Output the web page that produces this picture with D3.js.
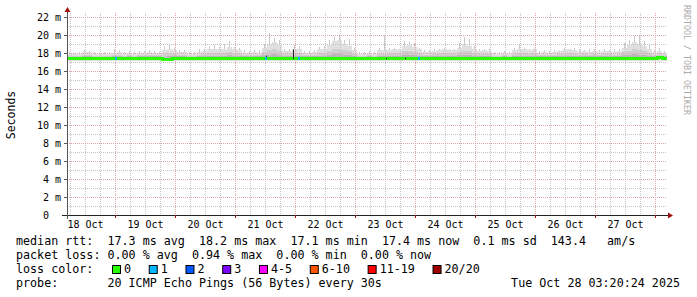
<!DOCTYPE html>
<html>
<head>
<meta charset="utf-8">
<script src="https://cdn.jsdelivr.net/npm/d3@7"></script>
<style>
  body { margin: 0; background: #fff; }
  text { font-family: "DejaVu Sans Mono", monospace; }
</style>
</head>
<body>
<svg id="chart" width="697" height="297"></svg>
<script>
// smokeping style latency graph, 10 days, one bin = 2 hours
let binHours = 2

// upper edge of the bulk of the smoke (ms), per bin
let smokeTop = [
  17.9,17.9,17.9,18.1,18.1,17.9,17.9,17.9,17.9,18.0,
  18.1,17.9,18.0,17.9,18.0,18.0,18.1,18.0,18.0,18.3,
  18.4,18.3,18.1,18.1,17.9,17.9,18.1,18.2,18.4,18.5,
  18.4,18.5,18.7,18.4,18.3,18.0,18.0,18.1,18.0,18.6,
  19.0,19.2,18.9,18.2,18.2,18.4,18.5,18.0,18.0,18.1,
  18.4,18.5,18.9,19.3,19.4,19.0,18.8,18.3,17.9,17.9,
  18.0,17.9,18.3,18.3,18.3,18.4,18.3,18.8,18.9,18.7,
  18.4,18.1,18.1,18.2,18.3,18.4,18.3,18.3,18.6,18.9,
  18.8,18.4,18.2,18.3,18.2,17.9,17.9,18.0,17.9,18.3,
  18.5,18.4,18.3,18.4,18.0,18.1,18.0,18.1,18.2,18.3,
  18.4,18.3,18.1,18.2,18.1,18.2,18.1,18.2,18.2,18.1,
  18.2,18.6,18.9,19.2,19.0,18.8,18.5,18.1,18.2,18.0
]

// highest ping in each bin (ms)
let smokeMax = [
  18.1,18.0,18.1,18.3,18.2,18.1,18.0,18.1,18.1,18.4,
  18.3,18.1,18.2,18.1,18.2,18.2,18.3,18.2,18.1,18.8,
  18.9,18.6,18.3,18.3,18.1,18.1,18.4,18.4,18.8,18.9,
  18.7,19.0,19.3,18.7,18.6,18.3,18.2,18.3,18.3,19.0,
  20.2,19.7,19.4,18.5,18.4,18.9,18.8,18.2,18.2,18.3,
  18.7,18.8,19.4,19.8,20.0,19.5,19.6,18.6,18.1,18.1,
  18.2,18.1,18.6,20.0,18.6,18.6,18.5,19.3,19.2,19.1,
  18.6,18.3,18.3,18.4,18.5,18.6,18.5,18.5,19.1,19.8,
  19.6,18.8,18.5,18.5,18.4,18.1,18.1,18.2,18.1,18.6,
  18.9,18.6,18.5,18.6,18.2,18.3,18.2,18.3,18.3,18.6,
  18.5,18.6,18.4,18.3,18.4,18.4,18.3,18.4,18.3,18.4,
  18.4,19.1,19.5,19.9,19.9,19.3,18.9,18.3,18.6,18.2
]

// median rtt (ms), per bin
let median = [
  17.4,17.4,17.4,17.4,17.4,17.4,17.4,17.4,17.4,17.4,
  17.4,17.4,17.4,17.4,17.4,17.4,17.4,17.4,17.4,17.3,
  17.3,17.35,17.4,17.4,17.4,17.4,17.4,17.4,17.4,17.4,
  17.4,17.4,17.4,17.4,17.4,17.4,17.4,17.4,17.4,17.4,
  17.4,17.4,17.4,17.4,17.4,17.4,17.4,17.4,17.4,17.4,
  17.4,17.4,17.4,17.4,17.4,17.4,17.4,17.4,17.4,17.4,
  17.4,17.4,17.4,17.4,17.4,17.4,17.4,17.4,17.4,17.4,
  17.4,17.4,17.4,17.4,17.4,17.4,17.4,17.4,17.4,17.4,
  17.4,17.4,17.4,17.4,17.4,17.4,17.4,17.4,17.4,17.4,
  17.4,17.4,17.35,17.4,17.4,17.4,17.4,17.4,17.4,17.4,
  17.4,17.4,17.4,17.4,17.4,17.4,17.4,17.4,17.4,17.4,
  17.4,17.4,17.4,17.4,17.4,17.4,17.4,17.4,17.45,17.4
]
let smokeLow = 17.1

// single lost pings (hours after graph start)
let lossHours = [19.6, 79.6, 92.8, 140.8]
let lossCounts = [1, 1, 1, 1]

// dense dark columns in the smoke
let darkHours = [79.6, 90.4, 127.6, 135.2]
let darkTops = [17.7, 18.4, 17.45, 17.5]

let yTicks = [0, 2, 4, 6, 8, 10, 12, 14, 16, 18, 20, 22]

let lossLabels = ["0", "1", "2", "3", "4-5", "6-10", "11-19", "20/20"]
let lossColors = ["#26ff00", "#00b8ff", "#0059ff", "#7e00ff", "#ff00ff", "#ff5500", "#ff0000", "#a10000"]

let rttLine = "median rtt:  17.3 ms avg  18.2 ms max  17.1 ms min  17.4 ms now  0.1 ms sd  143.4   am/s"
let lossLine = "packet loss: 0.00 % avg  0.94 % max  0.00 % min  0.00 % now"
let probeLine = "probe:       20 ICMP Echo Pings (56 Bytes) every 30s"
let stamp = "Tue Oct 28 03:20:24 2025"

let t0 = new Date(Date.UTC(2025, 9, 18, 4, 48))
let t1 = new Date(Date.UTC(2025, 9, 28, 4, 48))

let svg = d3.select("#chart")
let x = d3.scaleUtc().domain([t0, t1]).range([67, 667])
let y = d3.scaleLinear().domain([0, 200 / 9]).range([215, 15])

let bins = median.map((m, i) => ({
  t: d3.utcHour.offset(t0, i * binHours),
  t2: d3.utcHour.offset(t0, (i + 1) * binHours),
  med: m, top: smokeTop[i], max: smokeMax[i]
}))

// smoke
let smoke = svg.append("g").attr("shape-rendering", "crispEdges")
smoke.selectAll("rect.light").data(bins).join("rect")
  .attr("class", "light")
  .attr("x", d => x(d.t)).attr("width", d => x(d.t2) - x(d.t))
  .attr("y", d => y(d.top)).attr("height", d => y(smokeLow) - y(d.top))
  .attr("fill", "#e0e0e0")
smoke.selectAll("rect.spike").data(bins).join("rect")
  .attr("class", "spike")
  .attr("x", d => Math.round(x(d.t)) + 2).attr("width", 1)
  .attr("y", d => y(d.max)).attr("height", d => y(d.top) - y(d.max))
  .attr("fill", "#c8c8c8")
smoke.selectAll("rect.mid").data(bins).join("rect")
  .attr("class", "mid")
  .attr("x", d => x(d.t)).attr("width", d => x(d.t2) - x(d.t))
  .attr("y", d => y(d.med + (d.top - d.med) * 0.55))
  .attr("height", d => y(d.med) - y(d.med + (d.top - d.med) * 0.55))
  .attr("fill", "#cfcfcf")
smoke.selectAll("rect.dense").data(bins).join("rect")
  .attr("class", "dense")
  .attr("x", d => x(d.t)).attr("width", d => x(d.t2) - x(d.t))
  .attr("y", d => y(d.med + 0.1 + (d.top - d.med) * 0.2))
  .attr("height", d => y(d.med) - y(d.med + 0.1 + (d.top - d.med) * 0.2))
  .attr("fill", "#b8b8b8")

// grid
let grid = svg.append("g").attr("stroke-dasharray", "1,1").attr("shape-rendering", "crispEdges")
let sixHours = d3.utcHour.every(6).range(t0, t1).filter(d => d.getUTCHours() != 0)
let days = d3.utcDay.range(t0, t1)
grid.selectAll("line.vmin").data(sixHours).join("line")
  .attr("x1", d => Math.round(x(d)) + 0.5).attr("x2", d => Math.round(x(d)) + 0.5)
  .attr("y1", 13).attr("y2", 215)
  .attr("stroke", "#c4c4c4")
for (let v = 1; v <= 22; v++) {
  if (v % 2 == 0) continue
  grid.append("line")
    .attr("x1", 67).attr("x2", 667)
    .attr("y1", Math.round(y(v)) + 0.5).attr("y2", Math.round(y(v)) + 0.5)
    .attr("stroke", "#c4c4c4")
}
grid.selectAll("line.vmaj").data(days).join("line")
  .attr("x1", d => Math.round(x(d)) + 0.5).attr("x2", d => Math.round(x(d)) + 0.5)
  .attr("y1", 13).attr("y2", 215)
  .attr("stroke", "#e0a6a6")
grid.selectAll("line.hmaj").data(yTicks.filter(v => v > 0)).join("line")
  .attr("x1", 67).attr("x2", 667)
  .attr("y1", d => Math.round(y(d)) + 0.5).attr("y2", d => Math.round(y(d)) + 0.5)
  .attr("stroke", "#e0a6a6")

// median line
let line = d3.line()
  .x(d => x(d.t)).y(d => y(d.med))
  .curve(d3.curveStepAfter)
svg.append("path")
  .datum(bins.concat([{ t: t1, med: median[median.length - 1] }]))
  .attr("d", line)
  .attr("fill", "none")
  .attr("stroke", lossColors[0])
  .attr("stroke-width", 3)
  .attr("shape-rendering", "crispEdges")

// dark columns
svg.append("g").selectAll("rect").data(darkHours).join("rect")
  .attr("x", d => Math.round(x(d3.utcMinute.offset(t0, d * 60)))).attr("width", 1)
  .attr("y", (d, i) => y(darkTops[i])).attr("height", (d, i) => y(17.3) - y(darkTops[i]))
  .attr("fill", "#222")

// loss markers on the median
svg.append("g").selectAll("rect").data(lossHours).join("rect")
  .attr("x", d => Math.round(x(d3.utcMinute.offset(t0, d * 60))) - 1).attr("width", 2)
  .attr("y", y(17.4) - 1.5).attr("height", 3)
  .attr("fill", (d, i) => lossColors[lossCounts[i]])

// axes
let axes = svg.append("g").attr("shape-rendering", "crispEdges")
axes.append("line").attr("x1", 62).attr("x2", 670).attr("y1", 215.5).attr("y2", 215.5).attr("stroke", "#222")
axes.append("line").attr("x1", 67.5).attr("x2", 67.5).attr("y1", 219).attr("y2", 11).attr("stroke", "#555")
svg.append("path").attr("d", "M673,215.5 L668,212.5 L668,218.5 Z").attr("fill", "#a01010")
svg.append("path").attr("d", "M67.5,7 L64.5,12 L70.5,12 Z").attr("fill", "#a01010")
axes.selectAll("line.ytick").data(yTicks.filter(v => v > 0)).join("line")
  .attr("x1", 64).attr("x2", 67)
  .attr("y1", d => Math.round(y(d)) + 0.5).attr("y2", d => Math.round(y(d)) + 0.5)
  .attr("stroke", "#555")
axes.selectAll("line.xtick").data(days).join("line")
  .attr("x1", d => Math.round(x(d)) + 0.5).attr("x2", d => Math.round(x(d)) + 0.5)
  .attr("y1", 215).attr("y2", 218)
  .attr("stroke", "#a01010")

// y labels
svg.append("g").selectAll("text").data(yTicks).join("text")
  .attr("x", d => d == 0 ? 49 : 61)
  .attr("y", d => y(d) + 3.5)
  .attr("text-anchor", "end")
  .attr("font-size", "10px")
  .attr("fill", "#000")
  .text(d => d == 0 ? "0" : d + " m")

// x labels at noon of each day
let noons = d3.utcDay.range(d3.utcDay.floor(t0), t1)
  .map(d => d3.utcHour.offset(d, 12))
  .filter(d => d >= t0 && d <= t1)
let xAxis = d3.axisBottom(x).tickValues(noons).tickFormat(d3.utcFormat("%d %b")).tickSize(0)
let xg = svg.append("g").attr("transform", "translate(0,215)").call(xAxis)
xg.select(".domain").remove()
xg.selectAll("text")
  .attr("y", 13).attr("dy", 0)
  .attr("font-size", "10px")
  .attr("font-family", "DejaVu Sans Mono")
  .attr("fill", "#000")

// titles
svg.append("text")
  .attr("transform", "translate(15,115) rotate(-90)")
  .attr("text-anchor", "middle")
  .attr("font-size", "11.5px")
  .text("Seconds")
svg.append("text")
  .attr("transform", "translate(684,5) rotate(90)")
  .attr("font-size", "8.3px")
  .attr("fill", "#aaa")
  .text("RRDTOOL / TOBI OETIKER")

// legend
let legend = svg.append("g").attr("font-size", "11.7px").attr("fill", "#000")
legend.append("text").attr("x", 16).attr("y", 245).attr("xml:space", "preserve").style("white-space", "pre").text(rttLine)
legend.append("text").attr("x", 16).attr("y", 259).attr("xml:space", "preserve").style("white-space", "pre").text(lossLine)
legend.append("text").attr("x", 16).attr("y", 273).text("loss color:")
legend.append("text").attr("x", 16).attr("y", 287).attr("xml:space", "preserve").style("white-space", "pre").text(probeLine)
legend.append("text").attr("x", 680).attr("y", 287).attr("text-anchor", "end").text(stamp)

let cursor = 112
lossLabels.forEach((lab, i) => {
  legend.append("rect")
    .attr("x", cursor + 0.5).attr("y", 265.5).attr("width", 8).attr("height", 8)
    .attr("fill", lossColors[i]).attr("stroke", "#000").attr("stroke-width", 1)
  legend.append("text").attr("x", cursor + 12).attr("y", 273).text(lab)
  cursor += 12 + lab.length * 7.04 + 17.7
})
</script>
</body>
</html>
